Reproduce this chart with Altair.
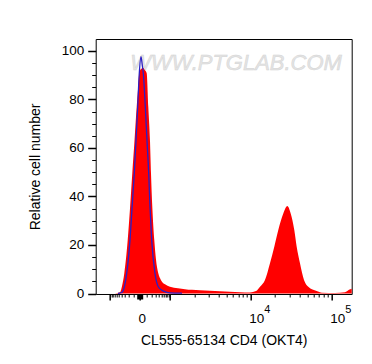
import math
import altair as alt
import pandas as pd

# ---- data (x in logicle display units, 0 = zero fluorescence; y = relative count) ----
red_x = [-25, -20, -18, -15.7, -12.3, -10, -7.7, -5.5, -3.3, -2, -0.7, 1, 3.3, 5, 6.7,
         8.3, 10, 11, 12.3, 14.3, 16, 18.3, 21, 25, 30, 38, 45, 52, 60, 70, 80, 90, 100,
         110, 116, 120, 125, 130, 134.3, 138.3, 143.3, 147.3, 150.7, 154.3, 156.7, 160,
         164, 168.3, 176.7, 182, 195, 205, 209, 211.7]
red_y = [0, 0.5, 3, 8.3, 22, 35, 49.6, 63, 77, 84, 90.8, 92.5, 93, 92, 90.8,
         77, 63, 49.6, 35.8, 22, 14, 8.3, 5.5, 3.8, 2.8, 2.2, 1.8, 1.5, 1.3, 1.1, 0.9, 0.7, 0.5,
         0.4, 1, 2.8, 5.6, 12.5, 19.3, 26.2, 33, 36.1, 33, 26.2, 19.3, 12.5,
         5.6, 2.8, 1, 0.3, 0.2, 0.5, 1.5, 2]

blue_x = [-22, -18, -15.5, -13.3, -10, -8, -5.7, -4, -2.3, -0.7, 1, 2.3, 3.3, 5.3, 7,
          8.7, 10, 11.7, 15, 18, 21.7, 26, 30, 42]
blue_y = [0, 0.5, 3, 8.3, 22, 35, 49.6, 63, 77, 90.8, 97.6, 94, 90.8, 77, 63,
          49.6, 35.8, 22, 8.3, 3, 1.4, 0.6, 0.3, 0.2]

x_major = [-1000, 0, 1000, 10000, 100000]
x_labels = {0: "0", 10000: "10", 100000: "10"}
x_exponents = {10000: "4", 100000: "5"}
x_minor = ([-k * 100 for k in range(1, 10)] + [k * 100 for k in range(1, 10)]
           + [k * 1000 for k in range(2, 10)] + [k * 10000 for k in range(2, 10)])
y_major = [0, 20, 40, 60, 80, 100]
y_minor = [v for v in range(5, 105, 5) if v % 20 != 0]

watermark = "WWW.PTGLAB.COM"
x_title = "CL555-65134 CD4 (OKT4)"
y_title = "Relative cell number"


def disp(v):
    """biexponential-like display transform (fluorescence -> display units)"""
    a = abs(v)
    if a <= 1000:
        d = 30 * math.asinh(a / 200) / math.asinh(5)
    else:
        d = 30 + 80.85 * (math.log10(a) - 3)
    return math.copysign(d, v) if v != 0 else 0.0


def label_expr(mapping):
    expr = "''"
    for val, lab in mapping.items():
        expr = f"abs(datum.value - {disp(val):.4f}) < 0.01 ? '{lab}' : ({expr})"
    return expr


X_DOMAIN = [-44.3, 211.7]
Y_DOMAIN = [-0.2, 104.9]
FONT = "Liberation Sans"

red = pd.DataFrame({"x": red_x, "y": red_y})
blue = pd.DataFrame({"x": blue_x, "y": blue_y})

xs = alt.Scale(domain=X_DOMAIN, nice=False, zero=False)
ys = alt.Scale(domain=Y_DOMAIN, nice=False, zero=False)

wm = alt.Chart(pd.DataFrame({"t": [watermark]})).mark_text(
    font=FONT, fontStyle="italic", fontSize=22,
    color="#E4E4E4", stroke="#D4D4D4", strokeWidth=0.5,
    align="left", baseline="alphabetic"
).encode(text="t:N", x=alt.value(34.5), y=alt.value(31))

area = alt.Chart(red).mark_area(color="#FF0000", interpolate="monotone").encode(
    x=alt.X("x:Q", scale=xs, axis=alt.Axis(
        values=[disp(v) for v in x_major], labelExpr=label_expr(x_labels),
        orient="bottom", domain=False, grid=False, tickSize=6, tickWidth=1.5,
        tickColor="black", labelAlign="left", labelOffset=-2, labelPadding=12,
        labelFontSize=13.5, labelFont=FONT, labelColor="black",
        title=x_title, titleFont=FONT, titleFontSize=14, titleFontWeight="normal",
        titleColor="black", titlePadding=8)),
    y=alt.Y("y:Q", scale=ys, axis=alt.Axis(
        values=y_major, orient="left", domain=False, grid=False, tickSize=8,
        tickWidth=1.5, tickColor="black", labelPadding=4, labelFontSize=13.5,
        labelFont=FONT, labelColor="black", title=y_title, titleFont=FONT,
        titleFontSize=14, titleFontWeight="normal", titleColor="black",
        titlePadding=19)),
)

line = alt.Chart(blue).mark_line(color="#2B1FC4", strokeWidth=1.3, interpolate="monotone").encode(
    x=alt.X("x:Q", scale=xs, axis=alt.Axis(
        values=[disp(v) for v in x_minor], labels=False, orient="bottom", domain=False,
        grid=False, tickSize=3, tickWidth=1, tickColor="black", title=None)),
    y=alt.Y("y:Q", scale=ys, axis=alt.Axis(
        values=y_minor, labels=False, orient="left", domain=False, grid=False,
        tickSize=4, tickWidth=1, tickColor="black", title=None)),
)

expo = alt.Chart(red).mark_line(opacity=0).encode(
    x=alt.X("x:Q", scale=xs, axis=alt.Axis(
        values=[disp(v) for v in x_exponents], labelExpr=label_expr(x_exponents),
        orient="bottom", domain=False, grid=False, ticks=False, tickSize=0,
        labelAlign="left", labelOffset=13, labelPadding=10, labelFontSize=11,
        labelFont=FONT, labelColor="black", title=None)),
    y=alt.Y("y:Q", scale=ys, axis=None),
)

zero = alt.Chart(red).mark_line(opacity=0).encode(
    x=alt.X("x:Q", scale=xs, axis=alt.Axis(
        values=[0], labels=False, orient="bottom", domain=False, grid=False,
        tickSize=5, tickWidth=6, tickColor="black", title=None)),
    y=alt.Y("y:Q", scale=ys, axis=None),
)

chart = alt.layer(wm, area, line, expo, zero).resolve_axis(
    x="independent", y="independent"
).properties(
    width=256, height=255,
    autosize=alt.AutoSizeParams(type="none"),
    padding={"left": 87.7, "top": 31, "right": 12, "bottom": 60},
    background="white",
).configure_view(stroke="black", strokeWidth=1)

chart.save("out.html", embed_options={"renderer": "svg", "actions": False})
